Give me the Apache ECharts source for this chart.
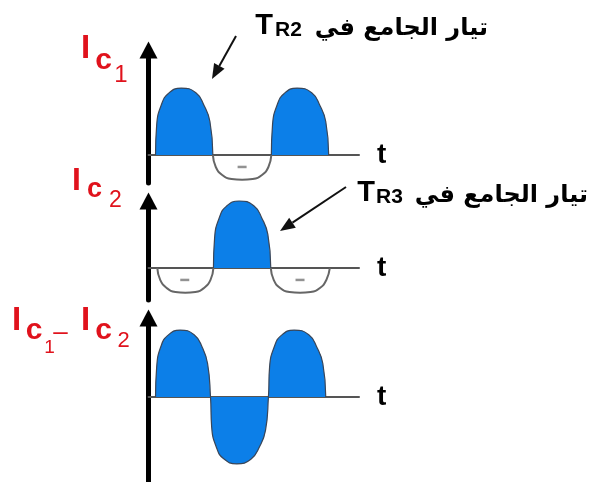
<!DOCTYPE html>
<html>
<head>
<meta charset="utf-8">
<title>Ic1 - Ic2</title>
<script src="https://cdn.jsdelivr.net/npm/echarts@6/dist/echarts.min.js"></script>
<style>
  html, body { margin: 0; padding: 0; background: #fff; }
  #main { width: 590px; height: 482px; }
</style>
</head>
<body>
<div id="main"></div>
<script>
// points [t, current] (half period ~10 units, peak = 1)
const ic1Pos1 = [[1.2, 0], [1.4, 0.45], [2.2, 0.75], [3.4, 0.92], [5.6, 1], [8.1, 0.93], [9.5, 0.74], [10.5, 0.5], [11, 0]]
const ic1Neg = [[11, 0], [11.5, -0.18], [12.6, -0.3], [14.2, -0.36], [16, -0.37], [17.8, -0.36], [19.4, -0.3], [20.5, -0.18], [21, 0]]
const ic1Pos2 = [[21, 0], [21.2, 0.45], [22, 0.75], [23.2, 0.92], [25.4, 1], [27.9, 0.93], [29.3, 0.74], [30.3, 0.5], [30.8, 0]]

const ic2Neg1 = [[1.5, 0], [2, -0.18], [3.1, -0.3], [4.6, -0.36], [6.3, -0.37], [8, -0.36], [9.5, -0.3], [10.6, -0.18], [11.1, 0]]
const ic2Pos = [[11.1, 0], [11.3, 0.45], [12.1, 0.75], [13.3, 0.92], [15.5, 1], [18, 0.93], [19.4, 0.74], [20.4, 0.5], [20.9, 0]]
const ic2Neg2 = [[20.9, 0], [21.4, -0.18], [22.5, -0.3], [24.1, -0.36], [25.9, -0.37], [27.7, -0.36], [29.3, -0.3], [30.4, -0.18], [31, 0]]

const icDiff = [[1.2, 0], [1.4, 0.45], [2.1, 0.75], [3.3, 0.92], [5.4, 1], [7.8, 0.93], [9.2, 0.74], [10.1, 0.5], [10.6, 0],
  [10.8, -0.45], [11.6, -0.75], [12.8, -0.92], [15.1, -1], [17.5, -0.93], [19, -0.74], [20, -0.5], [20.5, 0],
  [20.7, 0.45], [21.5, 0.75], [22.7, 0.92], [24.9, 1], [27.4, 0.93], [28.8, 0.74], [29.8, 0.5], [30.3, 0]]

// little minus signs inside the unfilled lobes
const ic1Minus = [[16, -0.18]]
const ic2Minus = [[6.2, -0.18], [25.9, -0.18]]

// axis ranges per panel
const tMax = 36
const yRanges = [[-0.42, 1.57], [-0.48, 1.0], [-1.27, 1.18]]

const blue = '#0c7fe8'
const red = '#e0121c'

const chart = echarts.init(document.getElementById('main'))

function xAx(i) {
  return {
    type: 'value', gridIndex: i, min: 0, max: tMax,
    axisLine: { onZero: true, lineStyle: { color: '#555', width: 1.8 } },
    axisTick: { show: false }, axisLabel: { show: false }, splitLine: { show: false },
    name: 't', nameLocation: 'end', nameGap: 18,
    nameTextStyle: { color: '#000', fontSize: 28, fontWeight: 'bold', fontFamily: 'Liberation Sans', verticalAlign: 'middle', padding: [0, 0, 12, 0] }
  }
}
function yAx(i) {
  return {
    type: 'value', gridIndex: i, min: yRanges[i][0], max: yRanges[i][1],
    axisLine: { show: true, onZero: false, symbol: ['none', 'triangle'], symbolSize: [18, 17], lineStyle: { color: '#000', width: 5 } },
    axisTick: { show: false }, axisLabel: { show: false }, splitLine: { show: false }
  }
}
function filled(data, i) {
  return {
    type: 'line', xAxisIndex: i, yAxisIndex: i, data: data, showSymbol: false, clip: false,
    smooth: 0.5,
    lineStyle: { color: '#3a4658', width: 1.2 },
    areaStyle: { color: blue, opacity: 1 }
  }
}
function hollow(data, i) {
  return {
    type: 'line', xAxisIndex: i, yAxisIndex: i, data: data, showSymbol: false, clip: false,
    smooth: 0.5,
    lineStyle: { color: '#666', width: 2 }
  }
}
function minus(data, i) {
  return {
    type: 'scatter', xAxisIndex: i, yAxisIndex: i, data: data,
    symbol: 'rect', symbolSize: [9, 2.5], itemStyle: { color: '#777' }
  }
}

function txt(text, x, y, size, color, weight, family, align) {
  return {
    type: 'text', x: x, y: y, z: 10,
    style: {
      text: text, fill: color, align: align || 'center', verticalAlign: 'middle',
      font: (weight || 'bold') + ' ' + size + 'px ' + (family || '"Liberation Sans"')
    }
  }
}
function arrow(x1, y1, x2, y2) {
  // shaft plus a filled head ending at (x2, y2)
  const dx = x2 - x1
  const dy = y2 - y1
  const len = Math.sqrt(dx * dx + dy * dy)
  const ux = dx / len
  const uy = dy / len
  const cx = x2 - 15 * ux
  const cy = y2 - 15 * uy
  return [
    { type: 'line', shape: { x1: x1, y1: y1, x2: cx, y2: cy }, style: { stroke: '#111', lineWidth: 2 } },
    { type: 'polygon', shape: { points: [[x2, y2], [cx - 6 * uy, cy + 6 * ux], [cx + 6 * uy, cy - 6 * ux]] }, style: { fill: '#111' } }
  ]
}

chart.setOption({
  animation: false,
  grid: [
    { left: 148.5, top: 50, width: 210.6, height: 133 },
    { left: 148.5, top: 201, width: 210.6, height: 99 },
    { left: 148.5, top: 318, width: 210.6, height: 164 }
  ],
  xAxis: [xAx(0), xAx(1), xAx(2)],
  yAxis: [yAx(0), yAx(1), yAx(2)],
  series: [
    filled(ic1Pos1, 0), hollow(ic1Neg, 0), filled(ic1Pos2, 0), minus(ic1Minus, 0),
    hollow(ic2Neg1, 1), filled(ic2Pos, 1), hollow(ic2Neg2, 1), minus(ic2Minus, 1),
    filled(icDiff, 2)
  ],
  graphic: [
    // Ic1
    txt('I', 85.5, 49, 33, red), txt('c', 103.5, 61, 30, red), txt('1', 121, 75, 24, red, 'normal'),
    // Ic2
    txt('I', 76.5, 181, 32, red), txt('c', 94.5, 190, 27, red), txt('2', 115.5, 200.5, 23, red, 'normal'),
    // Ic1 - Ic2
    txt('I', 16.5, 321, 33, red), txt('c', 34, 331, 30, red), txt('1', 49.5, 347.5, 19, red, 'normal'),
    txt('–', 60.5, 333, 26, red, 'normal'),
    txt('I', 85.5, 321, 33, red), txt('c', 103.5, 331, 30, red), txt('2', 123.5, 341, 22, red, 'normal'),
    // captions
    txt('T', 264, 25.5, 29, '#000'), txt('R2', 275, 30, 21, '#000', 'bold', null, 'left'),
    txt('تيار الجامع في', 488, 29, 24, '#000', 'bold', '"DejaVu Sans"', 'right'),
    txt('T', 366, 192.5, 29, '#000'), txt('R3', 376, 197.5, 21, '#000', 'bold', null, 'left'),
    txt('تيار الجامع في', 588, 196, 24, '#000', 'bold', '"DejaVu Sans"', 'right')
  ].concat(arrow(236, 36, 212, 79), arrow(346, 187, 280, 231))
})
</script>
</body>
</html>
